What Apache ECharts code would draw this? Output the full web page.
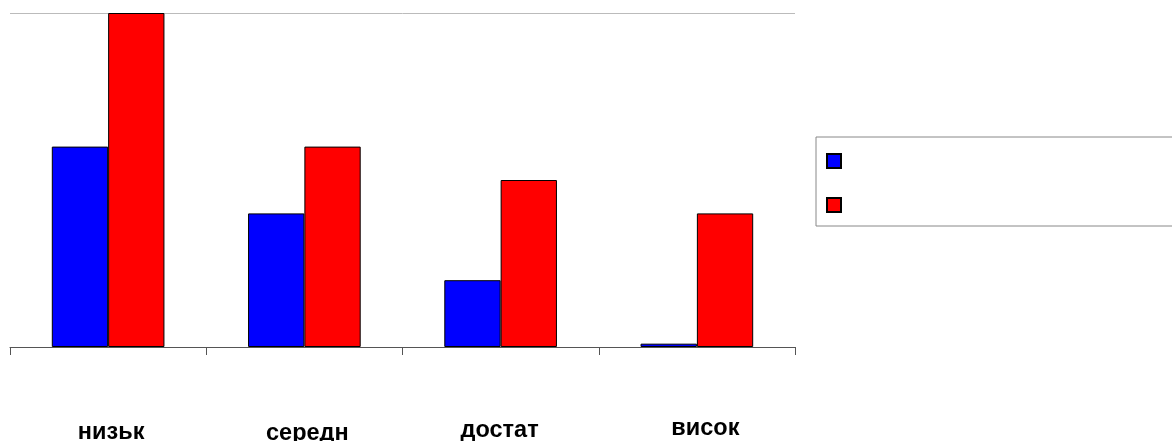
<!DOCTYPE html>
<html>
<head>
<meta charset="utf-8">
<script src="https://cdn.jsdelivr.net/npm/echarts@6/dist/echarts.min.js"></script>
<style>html,body{margin:0;padding:0;background:#fff}#c{width:1172px;height:441px}</style>
</head>
<body>
<div id="c"></div>
<script>
var categories = ['низьк', 'середн', 'достат', 'висок'];
var seriesA = [6, 4, 2, 0.1];
var seriesB = [10, 6, 5, 4];
var seriesNames = ['A', 'B'];
var yMax = 10;

var labelPads = [[4, 0, 0, 6], [4.5, 0, 0, 6], [1.5, 2, 0, 0], [0, 0, 0, 17]];
var rich = {};
labelPads.forEach(function (p, i) {
  rich['l' + i] = {
    fontFamily: 'Liberation Sans, Arial, sans-serif',
    fontWeight: 'bold',
    fontSize: 23.5,
    color: '#000',
    padding: p
  };
});

var chart = echarts.init(document.getElementById('c'));
chart.setOption({
  animation: false,
  grid: { left: 10, right: 377, top: 13, bottom: 94, containLabel: false, outerBoundsMode: 'none' },
  legend: {
    left: 816, top: 137,
    orient: 'vertical',
    icon: 'rect',
    itemWidth: 14, itemHeight: 14, itemGap: 28,
    padding: [16, 500, 13, 10],
    borderColor: '#888', borderWidth: 1, backgroundColor: '#fff',
    formatter: function () { return ''; },
    textStyle: { fontSize: 1 },
    data: seriesNames
  },
  xAxis: {
    type: 'category',
    data: categories,
    axisLine: { lineStyle: { color: '#555', width: 1 } },
    axisTick: { show: true, length: 8, lineStyle: { color: '#555' } },
    axisLabel: {
      margin: 70,
      interval: 0,
      formatter: function (v, i) { return '{l' + i + '|' + v + '}'; },
      rich: rich
    }
  },
  yAxis: {
    type: 'value', min: 0, max: yMax, interval: yMax,
    axisLine: { show: false }, axisTick: { show: false }, axisLabel: { show: false },
    splitLine: { show: true, lineStyle: { color: '#bbb', width: 1 } }
  },
  series: [
    { name: seriesNames[0], type: 'bar', data: seriesA, barGap: '0%', barCategoryGap: '42.6%',
      itemStyle: { color: '#0000ff', borderColor: '#000', borderWidth: 1 } },
    { name: seriesNames[1], type: 'bar', data: seriesB, barGap: '0%', barCategoryGap: '42.6%',
      itemStyle: { color: '#ff0000', borderColor: '#000', borderWidth: 1 } }
  ]
});
</script>
</body>
</html>
